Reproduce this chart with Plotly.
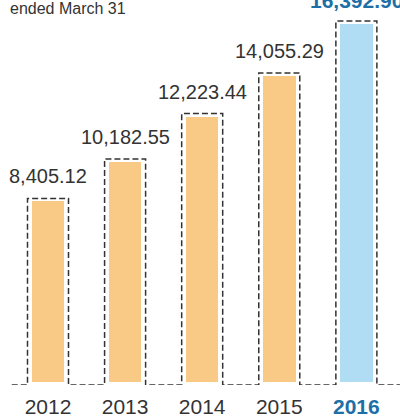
import plotly.graph_objects as go

# Net sales by fiscal year (millions)
years = ["2012", "2013", "2014", "2015", "2016"]
values = [8405.12, 10182.55, 12223.44, 14055.29, 16392.90]
value_labels = ["8,405.12", "10,182.55", "12,223.44", "14,055.29", "16,392.90"]
fill_colors = ["#F9CA86", "#F9CA86", "#F9CA86", "#F9CA86", "#B0DDF3"]

TEXT = "#333333"
HIGHLIGHT = "#1E6FA6"
NARROW = "Liberation Sans Narrow, Arial Narrow, Liberation Sans, Arial, sans-serif"

idx = list(range(len(years)))
half = 0.266  # half width of the dashed frame in category units

# one continuous dashed path: baseline -> up, across, down around each bar
path_x, path_y = [-0.47], [0]
for i, v in zip(idx, values):
    path_x += [i - half, i - half, i + half, i + half]
    path_y += [0, v, v, 0]
path_x.append(4.7)
path_y.append(0)

fig = go.Figure()

fig.add_trace(go.Bar(
    x=idx, y=values, width=0.5,
    marker=dict(color=fill_colors, line=dict(color="white", width=6)),
    hoverinfo="skip",
))

fig.add_trace(go.Scatter(
    x=path_x, y=path_y, mode="lines",
    line=dict(color=TEXT, width=1.5, dash="6px,3px"),
    hoverinfo="skip", cliponaxis=False,
))

for i, (v, lab) in enumerate(zip(values, value_labels)):
    last = i == len(values) - 1
    fig.add_annotation(
        x=i, y=v, text=f"<b>{lab}</b>" if last else lab,
        showarrow=False, yanchor="middle", yshift=21 if last else 22,
        font=dict(family=NARROW, size=21 if last else 20, color=HIGHLIGHT if last else TEXT),
    )

fig.add_annotation(
    x=0.02, xref="paper", y=1 + (20 - 8.5) / 365, yref="paper", text="ended March 31",
    showarrow=False, xanchor="left", yanchor="middle",
    font=dict(family="Liberation Sans, Arial, sans-serif", size=16, color=TEXT),
)

ticktext = years[:-1] + [f'<span style="color:{HIGHLIGHT}"><b>{years[-1]}</b></span>']

fig.update_layout(
    width=400, height=419,
    margin=dict(l=0, r=0, t=20, b=34),
    plot_bgcolor="white", paper_bgcolor="white",
    showlegend=False, bargap=0,
    xaxis=dict(
        range=[-0.6226, 4.566], tickmode="array", tickvals=idx, ticktext=ticktext,
        showgrid=False, zeroline=False, showline=False, ticks="",
        ticklabelstandoff=7,
        tickfont=dict(family=NARROW, size=21, color=TEXT),
    ),
    yaxis=dict(range=[0, 16439], visible=False),
)

fig.write_html("out.html")
